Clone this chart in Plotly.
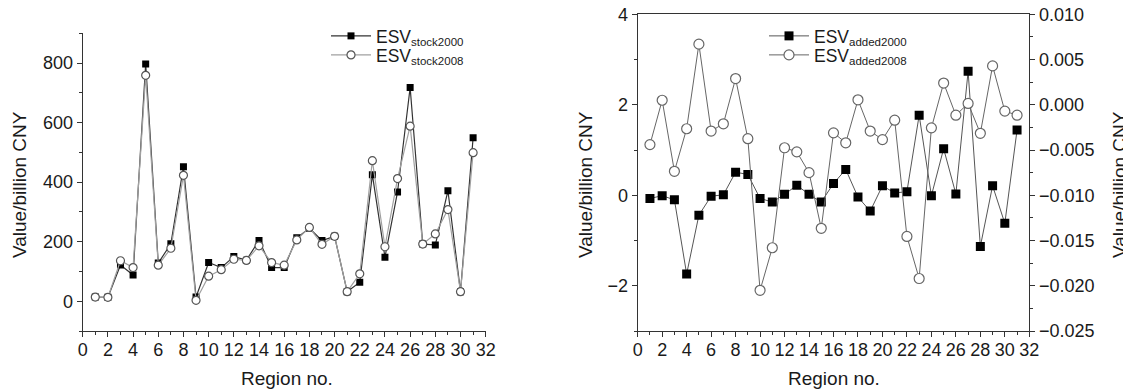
import plotly.graph_objects as go

W, H = 1131, 392
OFF = 8  # page body margin offset
regions = list(range(1, 32))

stock2000 = [14, 13, 122, 88, 797, 128, 193, 452, 14, 130, 113, 150, 138, 204, 113, 113,
             213, 245, 204, 218, 32, 64, 425, 148, 367, 718, 192, 189, 371, 32, 549]
stock2008 = [14, 13, 136, 113, 759, 121, 178, 423, 3, 84, 106, 141, 137, 186, 130, 121,
             206, 248, 191, 218, 32, 92, 472, 183, 412, 588, 192, 226, 308, 32, 499]

added2000 = [-0.07, -0.01, -0.10, -1.74, -0.44, -0.02, 0.01, 0.51, 0.46, -0.07, -0.15, 0.02,
             0.22, 0.02, -0.15, 0.26, 0.57, -0.04, -0.35, 0.21, 0.05, 0.08, 1.77, -0.01,
             1.03, 0.03, 2.74, -1.13, 0.21, -0.62, 1.44]
added2008 = [-0.0044, 0.0005, -0.00735, -0.00265, 0.0067, -0.0029, -0.0021, 0.0029, -0.00375,
             -0.0205, -0.0158, -0.00475, -0.0052, -0.0075, -0.01365, -0.0031, -0.0042, 0.00055,
             -0.0029, -0.00385, -0.0017, -0.01455, -0.0192, -0.00255, 0.0024, -0.00115, 0.00015,
             -0.00315, 0.0043, -0.0007, -0.00115]

FONT = "Liberation Sans, Arial, sans-serif"
TXT = "#1a1a1a"

def px_x(p):
    return (p - OFF) / W

def px_y(p):
    return (H - (p - OFF)) / H

def nm(base, sub):
    return base + '<sub><span style="font-size:11.5px">' + sub + "</span></sub>"

fig = go.Figure()

fig.add_trace(go.Scatter(
    x=regions, y=stock2000, mode="lines+markers", name=nm("ESV", "stock2000"),
    line=dict(color="#333333", width=1.2),
    marker=dict(symbol="square", size=7, color="black", line=dict(width=0)),
    xaxis="x", yaxis="y", legend="legend"))
fig.add_trace(go.Scatter(
    x=regions, y=stock2008, mode="lines+markers", name=nm("ESV", "stock2008"),
    line=dict(color="#a0a0a0", width=1.2),
    marker=dict(symbol="circle", size=8, color="white", line=dict(width=1.2, color="#555")),
    xaxis="x", yaxis="y", legend="legend2"))

fig.add_trace(go.Scatter(
    x=regions, y=added2000, mode="lines+markers", name=nm("ESV", "added2000"),
    line=dict(color="#555", width=1),
    marker=dict(symbol="square", size=9, color="black", line=dict(width=0)),
    xaxis="x2", yaxis="y2", legend="legend3"))
fig.add_trace(go.Scatter(
    x=regions, y=added2008, mode="lines+markers", name=nm("ESV", "added2008"),
    line=dict(color="#666", width=1),
    marker=dict(symbol="circle", size=10, color="white", line=dict(width=1.2, color="#666")),
    xaxis="x2", yaxis="y3", legend="legend4"))

axcommon = dict(showgrid=False, zeroline=False, showline=True, linecolor="#333", linewidth=1.3,
                ticks="outside", ticklen=5, tickwidth=1.2, tickcolor="#333", automargin=False,
                ticklabeloverflow="allow",
                tickfont=dict(family=FONT, size=18, color=TXT))
minor = lambda d: dict(dtick=d, ticks="outside", ticklen=3, tickwidth=1, tickcolor="#333")

legcommon = dict(xanchor="left", yanchor="middle", bgcolor="rgba(0,0,0,0)", itemwidth=40,
                 font=dict(family=FONT, size=17.5, color=TXT))

fig.update_layout(
    width=W, height=H, margin=dict(l=0, r=0, t=0, b=0),
    paper_bgcolor="white", plot_bgcolor="white",
    font=dict(family=FONT, color=TXT),
    xaxis=dict(domain=[px_x(82.7), px_x(485.7)], range=[0, 32], dtick=2, anchor="y",
               ticklabelstandoff=-3, minor=minor(1), **axcommon),
    yaxis=dict(domain=[px_y(331), px_y(33.3)], range=[-100, 900], tickvals=[0, 200, 400, 600, 800],
               anchor="x", minor=minor(100), **axcommon),
    xaxis2=dict(domain=[px_x(637.7), px_x(1029.3)], range=[0, 32], dtick=2, anchor="y2", mirror=True,
                ticklabelstandoff=-3, minor=minor(1), **axcommon),
    yaxis2=dict(domain=[px_y(331), px_y(14.3)], range=[-3, 4], dtick=2, anchor="x2",
                minor=minor(1), **axcommon),
    yaxis3=dict(range=[-0.025, 0.010], dtick=0.005, tickformat=".3f", overlaying="y2", side="right",
                anchor="x2", minor=minor(0.0025), **axcommon),
    legend=dict(x=px_x(326), y=px_y(36), **legcommon),
    legend2=dict(x=px_x(326), y=px_y(55), **legcommon),
    legend3=dict(x=px_x(764), y=px_y(36), **legcommon),
    legend4=dict(x=px_x(764), y=px_y(55), **legcommon),
    showlegend=True,
)

ann = dict(xref="paper", yref="paper", showarrow=False, xanchor="center", yanchor="middle",
           font=dict(family=FONT, size=19, color=TXT))
fig.add_annotation(x=px_x(287), y=px_y(378), text="Region no.", **ann)
fig.add_annotation(x=px_x(833.5), y=px_y(378), text="Region no.", **ann)
fig.add_annotation(x=px_x(19), y=px_y(185), text="Value/billion CNY", textangle=-90, **ann)
fig.add_annotation(x=px_x(585), y=px_y(185), text="Value/billion CNY", textangle=-90, **ann)
fig.add_annotation(x=px_x(1119), y=px_y(185), text="Value/billion CNY", textangle=-90, **ann)

fig.write_html("out.html")
